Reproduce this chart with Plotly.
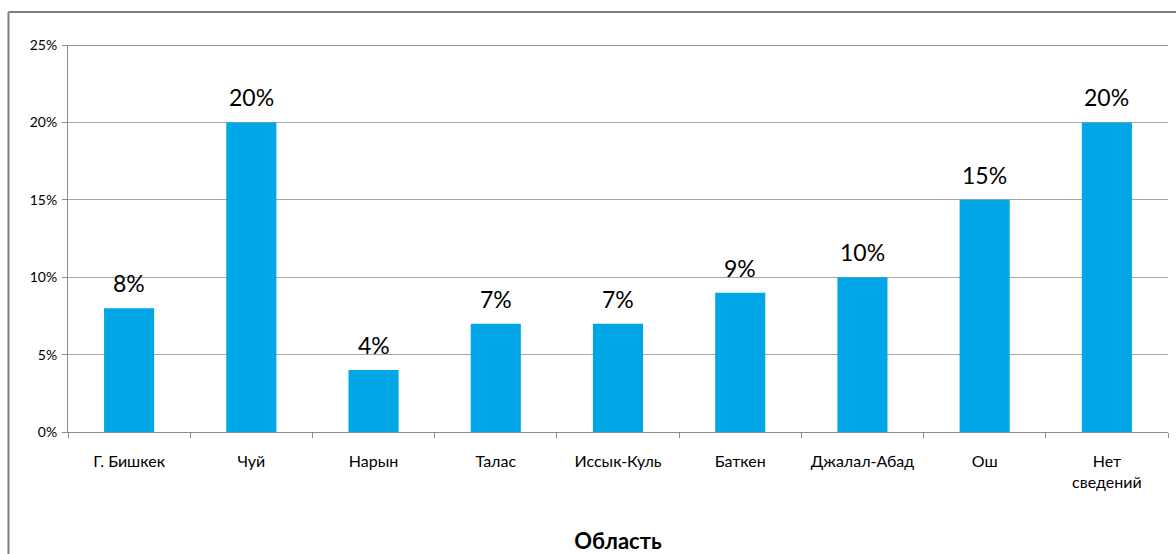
import plotly.graph_objects as go

# Regions and their shares (percent)
regions = ["Г. Бишкек", "Чуй", "Нарын", "Талас", "Иссык-Куль", "Баткен",
           "Джалал-Абад", "Ош", "Нет<br>сведений"]
shares = [8, 20, 4, 7, 7, 9, 10, 15, 20]
y_ticks = [0, 5, 10, 15, 20, 25]
y_tick_labels = ["0%", "5%", "10%", "15%", "20%", "25%"]

W, H = 1176, 554
L, R, T, B = 68, 8, 45, 122
plot_w = W - L - R
plot_h = H - T - B
font = "Lato, Open Sans, DejaVu Sans, sans-serif"

fig = go.Figure(go.Bar(
    x=regions, y=shares,
    marker=dict(color="#00A6E6", line=dict(width=0)),
    hoverinfo="skip",
))

# Value labels above each bar
for r, v in zip(regions, shares):
    fig.add_annotation(x=r, y=v, text=f"{v}%", showarrow=False,
                       yanchor="bottom", yshift=9,
                       font=dict(size=23, color="#000000", family=font))

# Frame lines of the chart area (left and top)
def px_x(p):
    return (p - L) / plot_w

def px_y(p):
    return 1 - (p - T) / plot_h

fig.add_shape(type="line", xref="paper", yref="paper",
              x0=px_x(8.5), x1=px_x(W + 5), y0=px_y(12), y1=px_y(12),
              line=dict(color="#7f7f7f", width=2))
fig.add_shape(type="line", xref="paper", yref="paper",
              x0=px_x(8.5), x1=px_x(8.5), y0=px_y(12), y1=px_y(H + 5),
              line=dict(color="#7f7f7f", width=2))
# Upper boundary of the plot area
fig.add_shape(type="line", xref="paper", yref="y",
              x0=0, x1=1, y0=25, y1=25,
              line=dict(color="#303030", width=1))

fig.update_layout(
    width=W, height=H,
    margin=dict(l=L, r=R, t=T, b=B),
    paper_bgcolor="white", plot_bgcolor="white",
    bargap=0.59,
    showlegend=False,
    font=dict(family=font, color="#000000"),
    xaxis=dict(
        type="category",
        automargin=False,
        tickson="boundaries",
        ticks="outside", ticklen=5, tickcolor="#8c8c8c",
        showline=True, linecolor="#8c8c8c", linewidth=1,
        showgrid=False,
        ticklabelstandoff=15,
        tickfont=dict(size=16, color="#000000"),
        title=dict(text="<b>Область</b>", font=dict(size=22, color="#000000"),
                   standoff=43),
    ),
    yaxis=dict(
        automargin=False,
        range=[0, 25],
        tickvals=y_ticks, ticktext=y_tick_labels,
        ticks="outside", ticklen=5, tickcolor="#8c8c8c",
        showline=True, linecolor="#8c8c8c", linewidth=1,
        showgrid=True, gridcolor="#a6a6a6", gridwidth=1,
        zeroline=False,
        ticklabelstandoff=2,
        tickfont=dict(size=14, color="#000000"),
    ),
)

fig.write_html("out.html")
